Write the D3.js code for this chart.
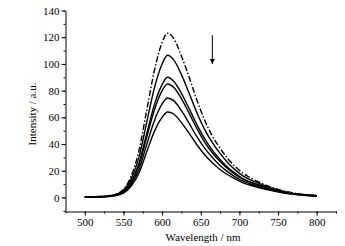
<!DOCTYPE html>
<html>
<head>
<meta charset="utf-8">
<script src="https://cdn.jsdelivr.net/npm/d3@7/dist/d3.min.js"></script>
<style>
  html, body { margin: 0; padding: 0; background: #fff; }
  #chart { width: 345px; height: 246px; }
  .axis text { font-family: "Liberation Serif", "Times New Roman", serif; font-size: 11px; fill: #000; }
  .axis path, .axis line { stroke: #000; stroke-width: 1; }
</style>
</head>
<body>
<div id="chart"></div>
<script>
// wavelength (nm) sampling points
const wavelengths = [500, 520, 530, 540, 550, 560, 570, 580, 590, 600, 607, 615, 625, 635, 645, 655, 665, 675, 685, 695, 705, 720, 740, 760, 780, 800];

// intensities, top (dash-dot) to bottom
const s1 = [0.5, 0.8, 1.2, 2.5, 6, 16, 35, 65, 95, 116, 123, 119, 106, 90, 73, 58, 46, 37, 29, 23, 18, 13, 8, 4.5, 2.5, 1.5];
const s2 = [0.4, 0.7, 1, 2.2, 5.3, 14, 30, 56, 82, 100, 106.5, 103, 92, 78, 63.5, 51, 41, 33, 26, 20.5, 16, 11.8, 7.3, 4.2, 2.3, 1.4];
const s3 = [0.4, 0.6, 0.9, 1.9, 4.5, 12, 25.5, 47.5, 69.5, 84.5, 90, 87, 78, 66.5, 54.5, 44, 35.5, 28.5, 22.5, 18, 14, 10.5, 6.6, 3.8, 2.1, 1.3];
const s4 = [0.4, 0.6, 0.9, 1.8, 4.3, 11.3, 24, 45, 65.5, 80, 85, 82.5, 74, 63, 51.5, 41.5, 33.5, 27, 21.5, 17, 13.5, 10, 6.3, 3.7, 2, 1.2];
const s5 = [0.3, 0.5, 0.8, 1.6, 3.8, 10, 21, 39.5, 57.5, 70, 74.5, 72.5, 65, 55.5, 45.5, 37, 30, 24, 19.2, 15.3, 12.2, 9, 5.8, 3.4, 1.9, 1.1];
const s6 = [0.3, 0.4, 0.7, 1.4, 3.3, 8.6, 18.2, 34, 49.5, 60, 64, 62.5, 56, 48, 39.5, 32, 26, 21, 17, 13.7, 11, 8.2, 5.3, 3.1, 1.8, 1];
const series = [s1, s2, s3, s4, s5, s6];

const xTicks = [500, 550, 600, 650, 700, 750, 800];
const yTicks = [0, 20, 40, 60, 80, 100, 120, 140];
const arrowAt = { wl: 665, from: 121.5, to: 100 };

const W = 345, H = 246;
const svg = d3.select('#chart').append('svg')
  .attr('width', W).attr('height', H)
  .attr('viewBox', `0 0 ${W} ${H}`)
  .style('display', 'block');

const x = d3.scaleLinear().domain([475, 825]).range([65.5, 336]);
const y = d3.scaleLinear().domain([-10.5, 140]).range([211.5, 10.5]);

// minor ticks
svg.append('g').attr('class', 'axis')
  .attr('transform', `translate(0,${y(-10.5)})`)
  .call(d3.axisBottom(x).tickValues(d3.range(475, 826, 25)).tickSize(2).tickSizeOuter(0).tickFormat(''))
  .call(g => g.select('.domain').remove());
svg.append('g').attr('class', 'axis')
  .attr('transform', `translate(${x(475)},0)`)
  .call(d3.axisLeft(y).tickValues(d3.range(-10, 141, 10)).tickSize(2).tickSizeOuter(0).tickFormat(''))
  .call(g => g.select('.domain').remove());

// major axes
svg.append('g').attr('class', 'axis')
  .attr('transform', `translate(0,${y(-10.5)})`)
  .call(d3.axisBottom(x).tickValues(xTicks).tickSize(4).tickSizeOuter(0).tickPadding(3));
svg.append('g').attr('class', 'axis')
  .attr('transform', `translate(${x(475)},0)`)
  .call(d3.axisLeft(y).tickValues(yTicks).tickSize(4).tickSizeOuter(0).tickPadding(2));

// axis titles
svg.append('text')
  .attr('x', 203).attr('y', 241)
  .attr('text-anchor', 'middle')
  .style('font-family', '"Liberation Serif", serif').style('font-size', '11px')
  .text('Wavelength / nm');
svg.append('text')
  .attr('transform', 'translate(36,114) rotate(-90)')
  .attr('text-anchor', 'middle')
  .style('font-family', '"Liberation Serif", serif').style('font-size', '11px')
  .text('Intensity / a.u.');

// spectra
const line = d3.line()
  .x((d, i) => x(wavelengths[i]))
  .y(d => y(d))
  .curve(d3.curveMonotoneX);

svg.selectAll('path.spec')
  .data(series)
  .enter().append('path')
  .attr('class', 'spec')
  .attr('d', line)
  .attr('fill', 'none')
  .attr('stroke', '#000')
  .attr('stroke-width', 1.4)
  .attr('stroke-dasharray', (d, i) => i === 0 ? '6,2,1.5,2' : null);

// arrow
svg.append('defs').append('marker')
  .attr('id', 'ah').attr('viewBox', '0 0 10 10')
  .attr('refX', 10).attr('refY', 5)
  .attr('markerWidth', 5).attr('markerHeight', 6)
  .attr('orient', 'auto')
  .append('path').attr('d', 'M0,0 L10,5 L0,10 Z').attr('fill', '#000');
svg.append('line')
  .attr('x1', x(arrowAt.wl)).attr('x2', x(arrowAt.wl))
  .attr('y1', y(arrowAt.from)).attr('y2', y(arrowAt.to))
  .attr('stroke', '#000').attr('stroke-width', 1)
  .attr('marker-end', 'url(#ah)');
</script>
</body>
</html>
